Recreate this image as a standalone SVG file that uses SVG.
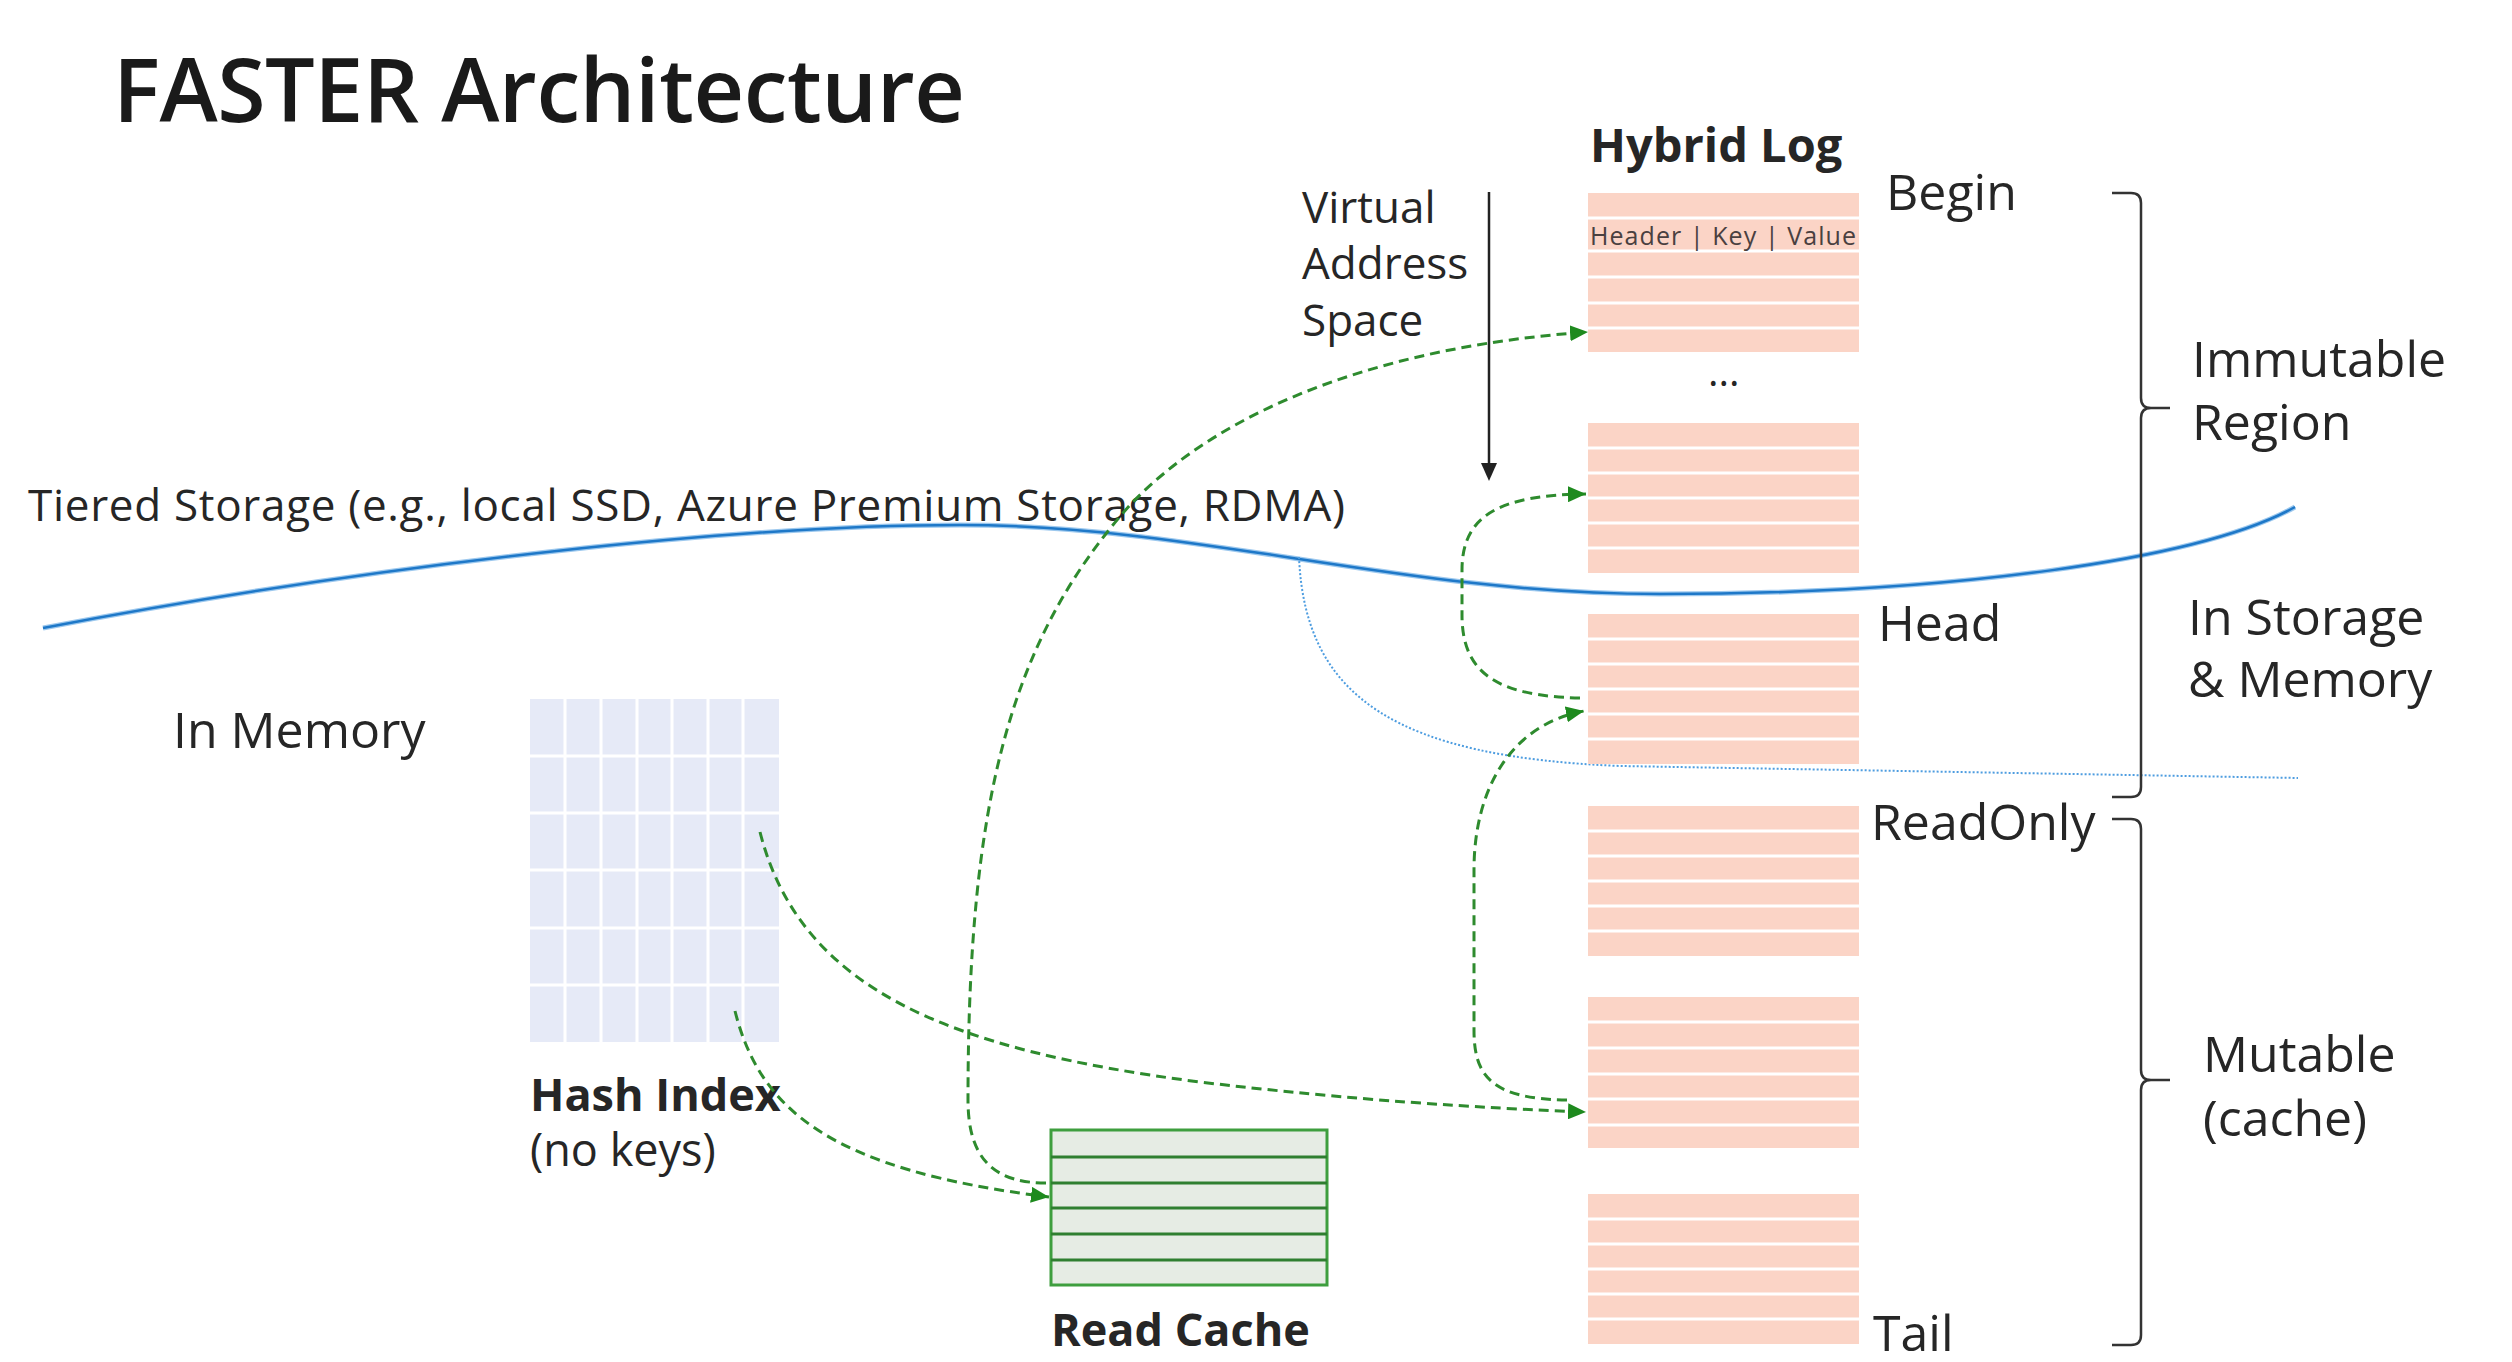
<svg xmlns="http://www.w3.org/2000/svg" width="2512" height="1362" viewBox="0 0 2512 1362">
<style>
text{font-family:"Open Sans","Noto Sans","DejaVu Sans",sans-serif;fill:#262626}
.lbl{font-size:50px}
.sm{font-size:44px}
.bold{font-weight:bold}
.log{fill:#FBD4C6}
.sep{stroke:#ffffff;stroke-width:3}
.hsep{stroke:#ffffff;stroke-width:3}
.ptr{fill:none;stroke:#2E8B2E;stroke-width:3;stroke-dasharray:10 6}
.brace{fill:none;stroke:#333333;stroke-width:2.5}
</style>
<defs>
<marker id="ga" markerUnits="userSpaceOnUse" markerWidth="20" markerHeight="16" refX="18" refY="8" orient="auto">
<path d="M0,0 L18,8 L0,16 Z" fill="#1E8A1E"/>
</marker>
</defs>
<rect width="2512" height="1362" fill="#ffffff"/>

<text id="title" x="113" y="122" font-size="88" font-weight="600" textLength="852" style="fill:#1a1a1a">FASTER Architecture</text>

<g id="tiered-storage">
<path d="M43,628 C400,560 750,525 960,525 C1200,525 1400,594 1660,594 C1950,594 2200,560 2295,507" fill="none" stroke="#9CC8EE" stroke-width="5"/>
<path d="M43,628 C400,560 750,525 960,525 C1200,525 1400,594 1660,594 C1950,594 2200,560 2295,507" fill="none" stroke="#1E78C8" stroke-width="2.5"/>
<path d="M1299,557 C1305,700 1400,757 1620,766 L2298,778" fill="none" stroke="#4E9DE0" stroke-width="2" stroke-dasharray="2 2"/>
<text x="28" y="521" font-size="44" textLength="1317">Tiered Storage (e.g., local SSD, Azure Premium Storage, RDMA)</text>
</g>

<g id="in-memory"><text class="lbl" x="173" y="748">In Memory</text></g>

<g id="hash-index">
<rect x="530" y="699" width="249" height="343" fill="#E6EAF7"/>
<g class="hsep">
<line x1="565" y1="699" x2="565" y2="1042"/>
<line x1="601" y1="699" x2="601" y2="1042"/>
<line x1="637" y1="699" x2="637" y2="1042"/>
<line x1="672" y1="699" x2="672" y2="1042"/>
<line x1="708" y1="699" x2="708" y2="1042"/>
<line x1="743" y1="699" x2="743" y2="1042"/>
<line x1="530" y1="756" x2="779" y2="756"/>
<line x1="530" y1="813" x2="779" y2="813"/>
<line x1="530" y1="870" x2="779" y2="870"/>
<line x1="530" y1="928" x2="779" y2="928"/>
<line x1="530" y1="985" x2="779" y2="985"/>
</g>
<text class="bold" x="530" y="1111" font-size="45">Hash Index</text>
<text x="530" y="1166" font-size="45">(no keys)</text>
</g>

<g id="read-cache">
<rect x="1051" y="1130" width="276" height="155" fill="#E6ECE4" stroke="#3E9E3E" stroke-width="3"/>
<g stroke="#2F7F30" stroke-width="3">
<line x1="1051" y1="1157" x2="1327" y2="1157"/>
<line x1="1051" y1="1183" x2="1327" y2="1183"/>
<line x1="1051" y1="1208" x2="1327" y2="1208"/>
<line x1="1051" y1="1234" x2="1327" y2="1234"/>
<line x1="1051" y1="1260" x2="1327" y2="1260"/>
</g>
<text class="bold" x="1051" y="1346" font-size="45">Read Cache</text>
</g>

<g id="virtual-address-space">
<text class="sm" x="1302" y="223">Virtual</text>
<text class="sm" x="1302" y="279">Address</text>
<text class="sm" x="1302" y="336">Space</text>
<line x1="1489" y1="192" x2="1489" y2="466" stroke="#222" stroke-width="2.5"/>
<path d="M1481,463 L1497,463 L1489,481 Z" fill="#222"/>
</g>

<g id="hybrid-log">
<text class="bold" x="1590" y="162" font-size="47">Hybrid Log</text>
<g id="block1">
<rect class="log" x="1588" y="193" width="271" height="159"/>
<g class="sep">
<line x1="1588" y1="218" x2="1859" y2="218"/>
<line x1="1588" y1="251" x2="1859" y2="251"/>
<line x1="1588" y1="277" x2="1859" y2="277"/>
<line x1="1588" y1="303" x2="1859" y2="303"/>
<line x1="1588" y1="328" x2="1859" y2="328"/>
</g>
<text x="1590" y="245" font-size="25" textLength="266" style="fill:#4A4040">Header | Key | Value</text>
</g>
<text x="1708" y="386" font-size="40">...</text>
<g id="block2">
<rect class="log" x="1588" y="423" width="271" height="150"/>
<g class="sep">
<line x1="1588" y1="448" x2="1859" y2="448"/>
<line x1="1588" y1="473" x2="1859" y2="473"/>
<line x1="1588" y1="498" x2="1859" y2="498"/>
<line x1="1588" y1="523" x2="1859" y2="523"/>
<line x1="1588" y1="548" x2="1859" y2="548"/>
</g>
</g>
<g id="block3">
<rect class="log" x="1588" y="614" width="271" height="150"/>
<g class="sep">
<line x1="1588" y1="639" x2="1859" y2="639"/>
<line x1="1588" y1="664" x2="1859" y2="664"/>
<line x1="1588" y1="689" x2="1859" y2="689"/>
<line x1="1588" y1="714" x2="1859" y2="714"/>
<line x1="1588" y1="739" x2="1859" y2="739"/>
</g>
</g>
<g id="block4">
<rect class="log" x="1588" y="806" width="271" height="150"/>
<g class="sep">
<line x1="1588" y1="831" x2="1859" y2="831"/>
<line x1="1588" y1="856" x2="1859" y2="856"/>
<line x1="1588" y1="881" x2="1859" y2="881"/>
<line x1="1588" y1="906" x2="1859" y2="906"/>
<line x1="1588" y1="931" x2="1859" y2="931"/>
</g>
</g>
<g id="block5">
<rect class="log" x="1588" y="997" width="271" height="151"/>
<g class="sep">
<line x1="1588" y1="1022" x2="1859" y2="1022"/>
<line x1="1588" y1="1048" x2="1859" y2="1048"/>
<line x1="1588" y1="1074" x2="1859" y2="1074"/>
<line x1="1588" y1="1099" x2="1859" y2="1099"/>
<line x1="1588" y1="1125" x2="1859" y2="1125"/>
</g>
</g>
<g id="block6">
<rect class="log" x="1588" y="1194" width="271" height="150"/>
<g class="sep">
<line x1="1588" y1="1219" x2="1859" y2="1219"/>
<line x1="1588" y1="1244" x2="1859" y2="1244"/>
<line x1="1588" y1="1269" x2="1859" y2="1269"/>
<line x1="1588" y1="1294" x2="1859" y2="1294"/>
<line x1="1588" y1="1319" x2="1859" y2="1319"/>
</g>
</g>
<text class="lbl" x="1886" y="210">Begin</text>
<text class="lbl" x="1878" y="641">Head</text>
<text class="lbl" x="1871" y="840">ReadOnly</text>
<text class="lbl" x="1873" y="1351">Tail</text>
</g>

<g id="regions">
<path class="brace" d="M2112,193 L2131,193 Q2141,193 2141,203 L2141,398 Q2141,408 2151,408 L2170,408 M2151,408 Q2141,408 2141,418 L2141,787 Q2141,797 2131,797 L2112,797"/>
<path class="brace" d="M2112,819 L2131,819 Q2141,819 2141,829 L2141,1070 Q2141,1080 2151,1080 L2170,1080 M2151,1080 Q2141,1080 2141,1090 L2141,1335 Q2141,1345 2131,1345 L2112,1345"/>
<text class="lbl" x="2192" y="377">Immutable</text>
<text class="lbl" x="2192" y="440">Region</text>
<text class="lbl" x="2188" y="635">In Storage</text>
<text class="lbl" x="2188" y="697">&amp; Memory</text>
<text class="lbl" x="2203" y="1072">Mutable</text>
<text class="lbl" x="2203" y="1136">(cache)</text>
</g>

<g id="connectors">
<path class="ptr" marker-end="url(#ga)" d="M1046,1183 C995,1183 968,1160 968,1100 C968,800 1010,640 1130,505 C1230,400 1400,345 1588,332"/>
<path class="ptr" marker-end="url(#ga)" d="M760,832 C800,990 950,1050 1200,1082 C1350,1100 1480,1108 1586,1112"/>
<path class="ptr" marker-end="url(#ga)" d="M735,1011 C760,1110 830,1170 1049,1197"/>
<path class="ptr" marker-end="url(#ga)" d="M1580,698 C1495,696 1462,672 1462,615 L1462,570 C1462,515 1500,495 1586,494"/>
<path class="ptr" marker-end="url(#ga)" d="M1567,1100 C1490,1099 1474,1075 1474,1030 L1474,870 C1474,790 1510,725 1584,711"/>
</g>
</svg>
